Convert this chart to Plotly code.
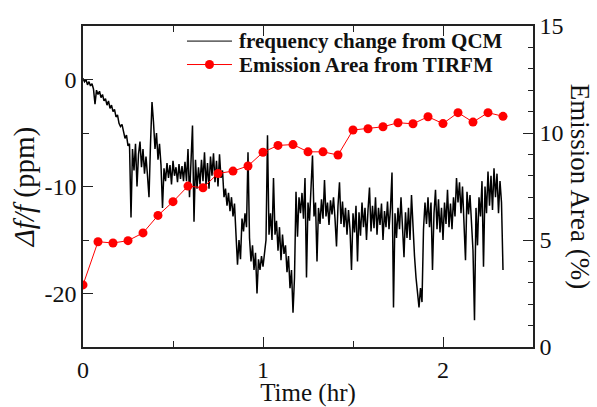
import numpy as np
import plotly.graph_objects as go

# ---------------- data ----------------
# QCM frequency change (ppm), one sample every 0.5 min starting at t = 0
qcm_sample_interval_min = 0.5
qcm_df_ppm = [
    0.1, -0.2, 0.0, -0.5, -0.2, -0.6, -0.4, -0.9, -2.3, -1.0,
    -1.4, -1.1, -1.7, -1.4, -2.0, -1.8, -2.4, -2.0, -2.7, -2.4,
    -3.0, -2.8, -3.5, -3.3, -4.1, -4.4, -4.2, -5.0, -5.5, -5.2,
    -6.2, -6.0, -12.9, -6.5, -8.5, -6.0, -10.0, -7.0, -5.8, -8.2,
    -6.5, -8.8, -7.2, -9.0, -11.0, -6.0, -2.1, -4.0, -6.5, -5.0,
    -7.5, -6.0, -8.0, -12.0, -8.3, -9.5, -7.8, -9.2, -8.0, -9.8,
    -7.6, -9.0, -8.2, -9.6, -7.9, -9.3, -8.1, -9.5, -7.7, -9.5,
    -6.5, -11.0, -8.0, -4.3, -13.3, -7.5, -10.2, -8.2, -9.8, -7.5,
    -9.5, -6.8, -9.9, -7.8, -10.2, -7.2, -9.0, -6.9, -9.6, -7.6,
    -10.0, -7.0, -9.2, -8.5, -11.0, -10.2, -11.8, -10.6, -12.3, -11.0,
    -12.8, -11.6, -14.5, -17.3, -15.0, -16.8, -13.0, -14.2, -12.5, -13.8,
    -6.8, -14.8, -17.0, -15.5, -17.8, -16.2, -20.0, -16.8, -17.8, -16.5,
    -17.5, -16.4, -15.0, -5.2, -14.5, -12.5, -15.0, -9.2, -14.5, -13.2,
    -16.0, -13.8, -16.9, -14.5, -16.3, -15.5, -18.0, -16.5, -19.5, -17.8,
    -21.8, -18.5, -10.5, -14.7, -11.0, -12.5, -10.6, -13.0, -9.2, -18.5,
    -11.5, -13.2, -10.5, -7.1, -12.8, -11.5, -17.0, -12.0, -13.5, -11.2,
    -13.0, -9.4, -12.8, -11.5, -13.6, -11.3, -12.6, -11.0, -13.0, -15.6,
    -11.8, -9.6, -13.5, -11.4, -13.8, -12.0, -14.5, -12.2, -14.0, -17.8,
    -12.5, -14.3, -11.8, -17.0, -12.4, -14.6, -11.5, -13.8, -12.0, -15.0,
    -12.2, -10.1, -14.2, -11.8, -13.9, -11.0, -14.5, -12.0, -13.6, -11.6,
    -15.0, -12.3, -13.8, -11.4, -14.0, -12.0, -8.7, -21.3, -12.5, -14.8,
    -12.0, -14.0, -11.0, -13.5, -16.6, -12.4, -14.8, -12.0, -15.0, -10.8,
    -14.0, -16.5, -18.5, -20.0, -21.3, -19.5, -20.8, -14.0, -11.5, -13.5,
    -11.0, -13.8, -11.5, -17.8, -12.5, -10.3, -14.0, -11.2, -14.3, -12.0,
    -15.0, -11.5, -13.5, -10.3, -13.8, -11.6, -14.0, -11.0, -12.8, -9.2,
    -11.5, -9.6, -12.5, -10.0, -12.8, -16.9, -10.5, -12.6, -10.8, -13.5,
    -16.0, -22.5, -12.0, -15.5, -11.0, -12.8, -9.5, -17.5, -10.0, -12.5,
    -8.6, -11.8, -9.0, -12.2, -8.3, -11.0, -8.8, -12.5, -9.5, -11.5,
    -17.8,
]

# TIRFM emission area (%), measured every 5 min
tirfm_time_min = [0, 5, 10, 15, 20, 25, 30, 35, 40, 45, 50, 55, 60, 65, 70,
                  75, 80, 85, 90, 95, 100, 105, 110, 115, 120, 125, 130, 135, 140]
tirfm_area_pct = [2.9, 4.92, 4.86, 4.97, 5.33, 6.15, 6.79, 7.52, 7.44, 8.11,
                  8.22, 8.46, 9.1, 9.42, 9.46, 9.12, 9.12, 8.97, 10.14, 10.2,
                  10.29, 10.48, 10.43, 10.76, 10.44, 10.95, 10.51, 10.95, 10.78]

x_tickvals = [0, 1, 2]
x_ticktext = ["0", "1", "2"]
y_tickvals = [-20, -10, 0]
y_ticktext = ["-20", "-10", "0"]
y2_tickvals = [0, 5, 10, 15]
y2_ticktext = ["0", "5", "10", "15"]

legend_labels = ["frequency change from QCM", "Emission Area from TIRFM"]

# ---------------- figure ----------------
qcm_t_hr = np.arange(len(qcm_df_ppm)) * qcm_sample_interval_min / 60.0
tirfm_t_hr = np.array(tirfm_time_min) / 60.0

SERIF = "Liberation Serif, Times New Roman, serif"
fig = go.Figure()
fig.add_trace(go.Scatter(x=qcm_t_hr, y=qcm_df_ppm, mode="lines",
                         line=dict(color="black", width=1.5),
                         name=legend_labels[0], yaxis="y", showlegend=False))
fig.add_trace(go.Scatter(x=tirfm_t_hr, y=tirfm_area_pct, mode="lines+markers",
                         line=dict(color="#ff0000", width=1),
                         marker=dict(color="#ff0000", size=9, symbol="circle"),
                         name=legend_labels[1], yaxis="y2", showlegend=False))

axis_common = dict(showgrid=False, zeroline=False, showline=True, automargin=False,
                   linecolor="#222", linewidth=1.5, ticks="inside",
                   tickcolor="#222", tickwidth=1.2,
                   tickfont=dict(family=SERIF, size=24, color="#111"))

fig.update_layout(
    template="none",
    width=597, height=407, autosize=False,
    margin=dict(l=83, r=64, t=26, b=60, pad=0),
    paper_bgcolor="white", plot_bgcolor="white",
    xaxis=dict(range=[0, 2.5], tickvals=x_tickvals, ticktext=x_ticktext,
               ticklen=10, mirror="ticks",
               minor=dict(dtick=0.5, tick0=0, ticks="inside", ticklen=6,
                          tickcolor="#222", tickwidth=1.2),
               title=dict(text="Time (hr)", font=dict(family=SERIF, size=25, color="#111"),
                          standoff=9),
               **axis_common),
    yaxis=dict(range=[-25, 5], tickvals=y_tickvals, ticktext=y_ticktext,
               ticklen=10, mirror=True,
               minor=dict(dtick=5, tick0=0, ticks="inside", ticklen=6,
                          tickcolor="#222", tickwidth=1.2),
               title=dict(text="<i>Δf/f</i> (ppm)", font=dict(family=SERIF, size=29, color="#111"),
                          standoff=1),
               **axis_common),
    yaxis2=dict(range=[0, 15], tickvals=y2_tickvals, ticktext=y2_ticktext,
                overlaying="y", side="right", ticklen=10,
                minor=dict(dtick=1, tick0=0, ticks="inside", ticklen=5,
                           tickcolor="#222", tickwidth=1.2),
                **axis_common),
)

# right axis title (reads top to bottom)
fig.add_annotation(text="Emission Area (%)", xref="paper", yref="paper",
                   x=1.106, y=0.5, xanchor="center", yanchor="middle",
                   textangle=90, showarrow=False,
                   font=dict(family=SERIF, size=27, color="#111"))

# legend box (drawn manually to match the compact spacing)
leg_x0, leg_x1, leg_xm, leg_text_x = 0.2311, 0.3311, 0.2811, 0.3422
leg_rows = [0.953, 0.880]
fig.add_shape(type="line", xref="paper", yref="paper", x0=leg_x0, x1=leg_x1,
              y0=leg_rows[0], y1=leg_rows[0], line=dict(color="black", width=1))
fig.add_shape(type="line", xref="paper", yref="paper", x0=leg_x0, x1=leg_x1,
              y0=leg_rows[1], y1=leg_rows[1], line=dict(color="#ff0000", width=1))
fig.add_shape(type="circle", xref="paper", yref="paper", xsizemode="pixel", ysizemode="pixel",
              xanchor=leg_xm, yanchor=leg_rows[1], x0=-4.5, x1=4.5, y0=-4.5, y1=4.5,
              fillcolor="#ff0000", line=dict(color="#ff0000", width=0))
for label, yrow in zip(legend_labels, leg_rows):
    fig.add_annotation(text="<b>" + label + "</b>", xref="paper", yref="paper",
                       x=leg_text_x, y=yrow, xanchor="left", yanchor="middle",
                       showarrow=False,
                       font=dict(family=SERIF, size=21, color="#111"))

fig.write_html("out.html", config={"displayModeBar": False},
               post_script="document.body.style.margin='0';document.body.style.padding='0';")
